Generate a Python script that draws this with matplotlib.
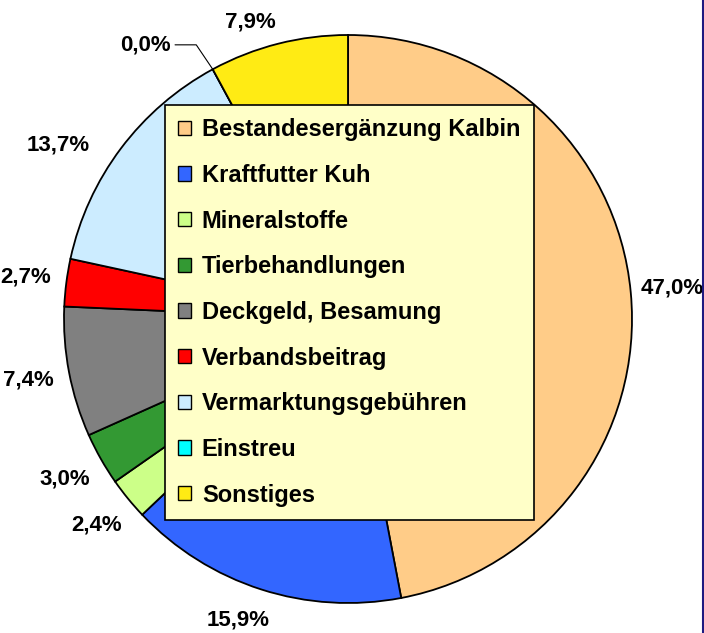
import numpy as np
import matplotlib
matplotlib.use('Agg')
import matplotlib.pyplot as plt
from matplotlib.patches import Patch
from matplotlib.lines import Line2D

plt.rcParams['font.family'] = ['Liberation Sans', 'DejaVu Sans']

# Daten
kategorien = ['Bestandesergänzung Kalbin', 'Kraftfutter Kuh', 'Mineralstoffe',
              'Tierbehandlungen', 'Deckgeld, Besamung', 'Verbandsbeitrag',
              'Vermarktungsgebühren', 'Einstreu', 'Sonstiges']
anteile = [47.0, 15.9, 2.4, 3.0, 7.4, 2.7, 13.7, 0.0, 7.9]
farben = ['#FFCC88', '#3366FF', '#CCFF88', '#339933', '#808080', '#FF0000',
          '#CCECFF', '#00FFFF', '#FFEB14']

W, H = 704, 633
fig = plt.figure(figsize=(W / 100, H / 100), dpi=100)
ax = fig.add_axes([0, 0, 1, 1])

wedges, _ = ax.pie(anteile, colors=farben, startangle=90, counterclock=False,
                   wedgeprops=dict(edgecolor='black', linewidth=1.3))

# Achsen so legen, dass Kreis bei (348, 319) px mit Radius 284 px liegt
cx, cy, r = 348, 319, 284
ax.set_xlim(-cx / r, (W - cx) / r)
ax.set_ylim(-(H - cy) / r, cy / r)
ax.set_aspect('auto')
ax.axis('off')

# Beschriftungen (Excel-artige Platzierung)
korrektur = {1: (-2.2, 1.128), 6: (6, 1.19), 7: (8, 1.20), 8: (4, 1.10)}  # index: (winkel-offset, radius)
for i, (w, v) in enumerate(zip(wedges, anteile)):
    mitte = (w.theta1 + w.theta2) / 2
    txt = f'{v:.1f}%'.replace('.', ',')
    off, rad = korrektur.get(i, (0, 1.145))
    a = np.radians(mitte + off)
    if v == 0:
        xe, ye = np.cos(np.radians(mitte)), np.sin(np.radians(mitte))
        ax.annotate(txt, xy=(xe, ye), xytext=(rad * np.cos(a), rad * np.sin(a)),
                    ha='center', va='center', fontsize=16, fontweight='bold',
                    arrowprops=dict(arrowstyle='-', color='black', lw=0.8,
                                    relpos=(1, 0.5), shrinkA=1, shrinkB=0,
                                    connectionstyle='angle,angleA=0,angleB=124,rad=0'))
        continue
    ax.text(rad * np.cos(a), rad * np.sin(a), txt, ha='center', va='center',
            fontsize=16, fontweight='bold')

handles = [Patch(facecolor=f, edgecolor='black', linewidth=1) for f in farben]
leg = ax.legend(handles, kategorien, loc='upper left',
                bbox_to_anchor=(165 / W, 1 - 105 / H), bbox_transform=fig.transFigure,
                prop=dict(size=17, weight='bold'), frameon=True, fancybox=False,
                facecolor='#FFFFC8', edgecolor='black', framealpha=1,
                handlelength=0.55, handleheight=0.55, handletextpad=0.45,
                labelspacing=0.96, borderpad=0.56, borderaxespad=0)
leg.get_frame().set_linewidth(1.2)

# rechte Randlinie
fig.add_artist(Line2D([702.5 / W, 702.5 / W], [0, 1], color='#1F1A80', lw=1.5))

fig.savefig('out.png', dpi=100)
